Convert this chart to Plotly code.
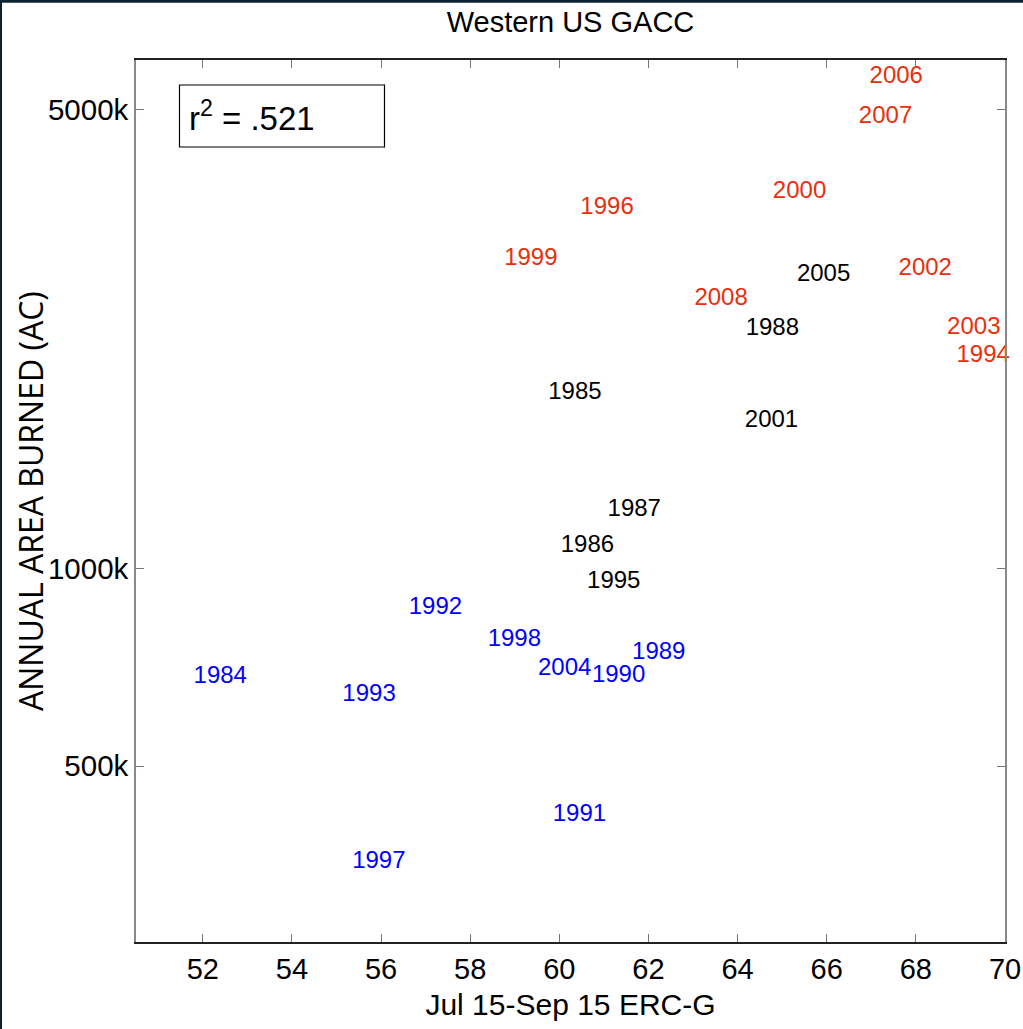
import plotly.graph_objects as go

# Data: year labels, ERC-G (x) and annual area burned in thousands of acres (y)
years_red = ["2006", "2007", "2000", "1996", "1999", "2002", "2008", "2003", "1994"]
erc_red = [67.56, 67.32, 65.39, 61.07, 59.36, 68.21, 63.63, 69.30, 69.51]
area_red = [5607, 4873, 3746, 3541, 2962, 2860, 2574, 2325, 2105]

years_black = ["2005", "1988", "1985", "2001", "1987", "1986", "1995"]
erc_black = [65.93, 64.78, 60.35, 64.76, 61.68, 60.63, 61.22]
area_black = [2794, 2317, 1851, 1676, 1227, 1083, 954]

years_blue = ["1992", "1998", "1989", "2004", "1990", "1984", "1993", "1991", "1997"]
erc_blue = [57.22, 58.99, 62.23, 60.12, 61.33, 52.39, 55.73, 60.45, 55.95]
area_blue = [870, 777, 744, 703, 686, 683, 642, 421, 357]

x_ticks = [52, 54, 56, 58, 60, 62, 64, 66, 68, 70]
y_tickvals = [500, 1000, 5000]
y_ticktext = ["500k", "1000k", "5000k"]

FONT = "Liberation Sans, Arial, Helvetica, sans-serif"
LBL = 24

fig = go.Figure()
for xs, ys, ts, col in [
    (erc_red, area_red, years_red, "#e8300c"),
    (erc_black, area_black, years_black, "#000000"),
    (erc_blue, area_blue, years_blue, "#0000ff"),
]:
    fig.add_trace(go.Scatter(
        x=xs, y=ys, text=ts, mode="text",
        textposition="middle center",
        textfont=dict(family=FONT, size=LBL, color=col),
        showlegend=False, hoverinfo="skip", cliponaxis=False,
    ))

W, H = 1023, 1029
ml, mr, mt, mb = 136, 18, 60, 87
pw, ph = W - ml - mr, H - mt - mb

fig.update_layout(
    width=W, height=H, autosize=False,
    margin=dict(l=ml, r=mr, t=mt, b=mb, pad=0, autoexpand=False),
    paper_bgcolor="white", plot_bgcolor="white",
    font=dict(family=FONT, color="black"),
    title=dict(text="Western US GACC", x=0.5, xref="paper", xanchor="center",
               y=1 - 22 / H, yref="container", yanchor="middle",
               font=dict(family=FONT, size=29, color="black")),
    xaxis=dict(
        range=[50.5, 70], tickvals=x_ticks, ticks="inside", ticklen=8,
        tickcolor="#777777", showline=True, linecolor="#222222", linewidth=1.5,
        mirror="ticks", showgrid=False, zeroline=False, automargin=False,
        tickfont=dict(family=FONT, size=29, color="black"),
        title=dict(text="Jul 15-Sep 15 ERC-G", standoff=10,
                   font=dict(family=FONT, size=30, color="black")),
    ),
    yaxis=dict(
        type="log", range=[2.431, 3.774], tickvals=y_tickvals, ticktext=y_ticktext,
        ticks="inside", ticklen=8, tickcolor="#777777",
        showline=True, linecolor="#888888", linewidth=1.5, mirror="ticks",
        showgrid=False, zeroline=False, automargin=False,
        tickfont=dict(family=FONT, size=29.5, color="black"),
    ),
)

# y-axis title placed as a rotated annotation
fig.add_annotation(xref="paper", yref="paper", x=(30 - ml) / pw, y=(H - mb - 501) / ph,
                   xanchor="center", yanchor="middle", showarrow=False, textangle=-90,
                   text="ANNUAL AREA BURNED (AC)",
                   font=dict(family="Open Sans, sans-serif", size=32, color="black"))

# r^2 box
bx0, bx1 = (179.5 - ml) / pw, (384.5 - ml) / pw
by0, by1 = (H - mb - 147) / ph, (H - mb - 85) / ph
fig.add_shape(type="rect", xref="paper", yref="paper", x0=bx0, x1=bx1, y0=by0, y1=by1,
              line=dict(color="black", width=1.2), fillcolor="rgba(0,0,0,0)")
fig.add_annotation(xref="paper", yref="paper", x=(187 - ml) / pw, y=(by0 + by1) / 2,
                   xanchor="left", yanchor="middle", showarrow=False,
                   text="r<sup>2</sup> = .521",
                   font=dict(family=FONT, size=33, color="black"))

# dark frame on top and left edge of the figure
fig.add_shape(type="line", xref="paper", yref="paper", x0=(0 - ml) / pw, x1=(W - ml) / pw,
              y0=(H - mb - 1.2) / ph, y1=(H - mb - 1.2) / ph,
              line=dict(color="#0b2230", width=3))
fig.add_shape(type="line", xref="paper", yref="paper", x0=(1 - ml) / pw, x1=(1 - ml) / pw,
              y0=(H - mb - H) / ph, y1=(H - mb) / ph,
              line=dict(color="#0b2230", width=2))

fig.write_html(
    "out.html",
    config={"displayModeBar": False, "responsive": False},
    post_script=(
        "document.documentElement.style.overflow='hidden';"
        "document.body.style.margin='0';document.body.style.overflow='hidden';"
    ),
)
